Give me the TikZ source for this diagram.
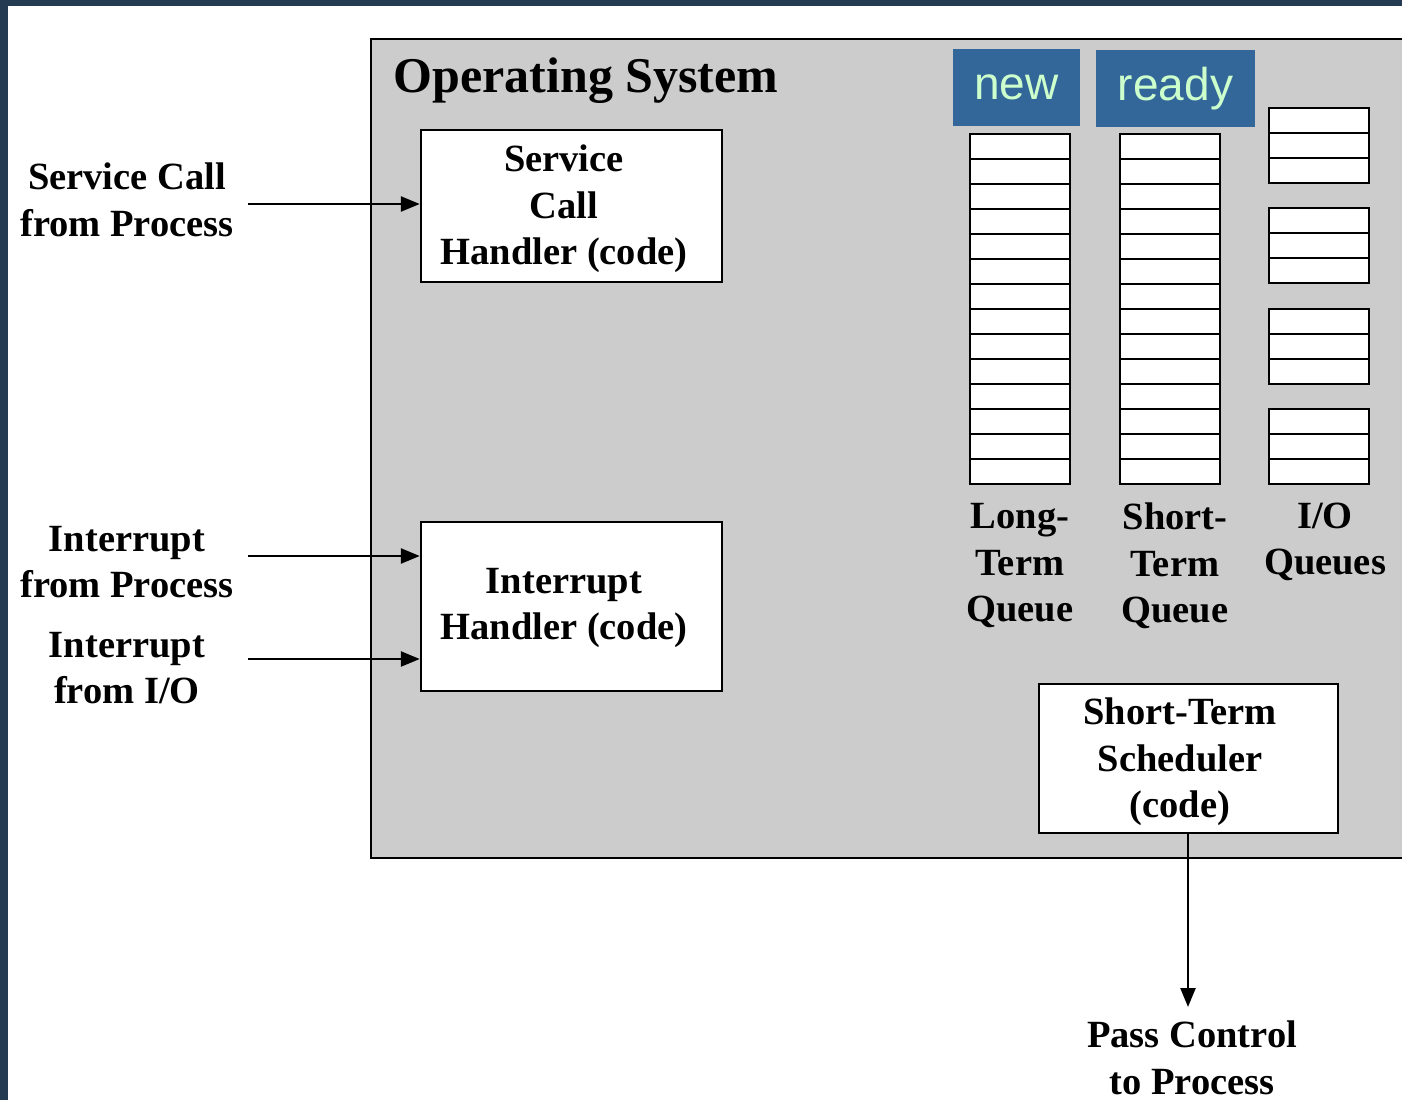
\documentclass[tikz,border=0pt]{standalone}
\usepackage{fontspec}
\setmainfont{Liberation Serif}
\newfontfamily\labelsans{Liberation Sans}
\usetikzlibrary{arrows.meta}
\definecolor{frame}{HTML}{243B52}
\definecolor{osgray}{HTML}{CCCCCC}
\definecolor{tagblue}{HTML}{336699}
\definecolor{taggreen}{HTML}{CCFFCC}
\tikzset{
  lbl/.style={font=\bfseries\fontsize{38.5}{46.5}\selectfont, align=center, inner sep=0pt},
  codebox/.style={draw=black, fill=white, line width=2.4pt, inner sep=0pt},
  tag/.style={fill=tagblue, text=taggreen, inner sep=0pt, font=\labelsans\fontsize{46}{50}\selectfont},
  arr/.style={line width=2.4pt, -{Triangle[length=19pt,width=15pt]}},
  slot/.style={draw=black, fill=white, line width=2.2pt}
}
\begin{document}
\begin{tikzpicture}[x=1pt,y=-1pt]
\useasboundingbox (0,0) rectangle (1402,1100);
\fill[white] (0,0) rectangle (1402,1100);
% dark frame strips
\fill[frame] (0,0) rectangle (1402,6);
\fill[frame] (0,0) rectangle (8,1100);

% operating system area
\fill[osgray] (371,39) rectangle (1402,858);
\draw[line width=2.4pt] (1402,39) -- (371,39) -- (371,858) -- (1402,858);
\node[inner sep=0pt, font=\bfseries\fontsize{50}{56}\selectfont] (ostitle) at (586,81) {Operating System};

% handler and scheduler boxes with their captions
\node[codebox, minimum width=301pt, minimum height=152pt] (sch) at (571.5,206) {};
\node[lbl] (schtext) at (564,209) {Service\\Call\\Handler (code)};
\node[codebox, minimum width=301pt, minimum height=169pt] (ih) at (571.5,606.5) {};
\node[lbl] (ihtext) at (564,608) {Interrupt\\Handler (code)};
\node[codebox, minimum width=299pt, minimum height=149pt] (sts) at (1188.5,758.5) {};
\node[lbl] (ststext) at (1180,762) {Short-Term\\Scheduler\\(code)};

% state tags
\node[tag, minimum width=127pt, minimum height=77pt] (newtag) at (1016.5,87.5) {new};
\node[tag, minimum width=159pt, minimum height=77pt] (readytag) at (1175.5,88.5) {ready};

% long-term and short-term queues: 14 slots each
\foreach \i in {0,...,13} {
  \draw[slot] (970,134+25*\i) rectangle (1070,159+25*\i);
  \draw[slot] (1120,134+25*\i) rectangle (1220,159+25*\i);
}
% I/O queues: four groups of three slots
\foreach \g/\top in {0/108,1/208,2/309,3/409} {
  \foreach \i in {0,1,2} {
    \draw[slot] (1269,\top+25*\i) rectangle (1369,\top+25+25*\i);
  }
}

% queue captions
\node[lbl] (ltq) at (1020,566) {Long-\\Term\\Queue};
\node[lbl] (stq) at (1175,566) {Short-\\Term\\Queue};
\node[lbl] (ioq) at (1325,542) {I/O\\Queues};

% external events
\node[lbl] (svc) at (127,200) {Service Call\\from Process};
\node[lbl] (intp) at (127,562) {Interrupt\\from Process};
\node[lbl] (intio) at (127,668) {Interrupt\\from I/O};
\node[lbl] (pass) at (1192,1058) {Pass Control\\to Process};

\coordinate (svcout) at (248,204);
\coordinate (intpout) at (248,556);
\coordinate (intioout) at (248,659);
\coordinate (passin) at (1188,1007);

\draw[arr] (svcout) -- (svcout -| sch.west);
\draw[arr] (intpout) -- (intpout -| ih.west);
\draw[arr] (intioout) -- (intioout -| ih.west);
\draw[arr] (passin |- sts.south) -- (passin);
\end{tikzpicture}
\end{document}
